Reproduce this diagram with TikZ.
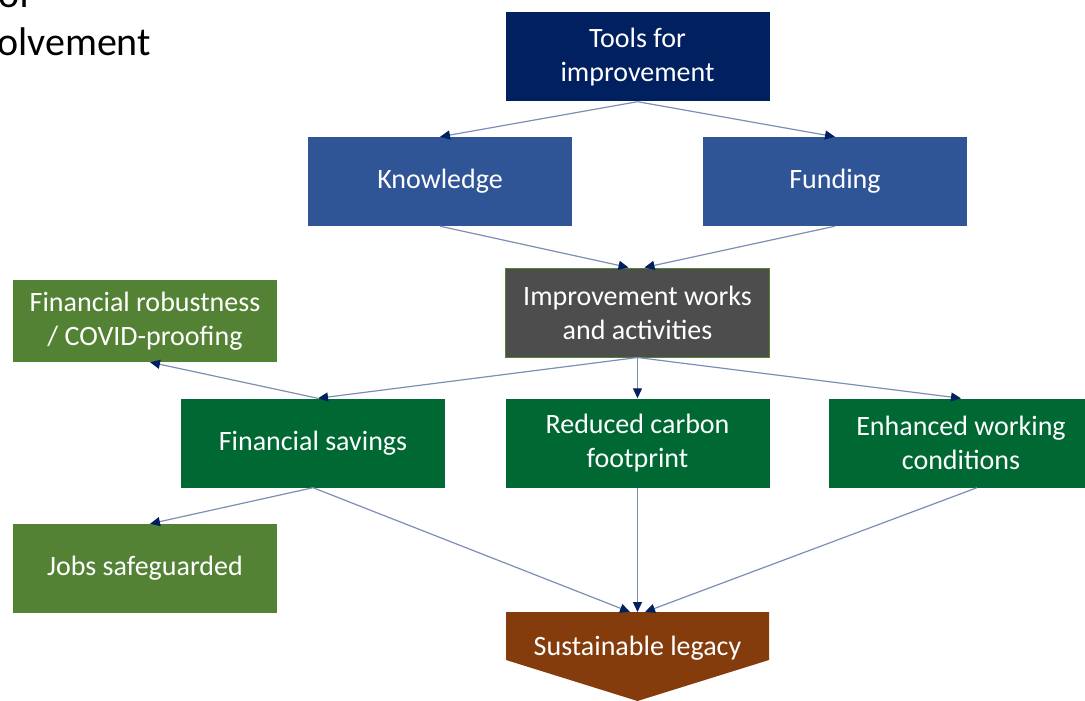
\documentclass[tikz,border=0pt]{standalone}
\usepackage{fontspec}
\setmainfont{Carlito}
\usetikzlibrary{arrows.meta}
\definecolor{navy}{RGB}{0,32,96}
\definecolor{midblue}{RGB}{47,85,151}
\definecolor{darkgrey}{RGB}{77,77,77}
\definecolor{leafgreen}{RGB}{84,130,53}
\definecolor{deepgreen}{RGB}{0,104,51}
\definecolor{rust}{RGB}{132,60,12}
\definecolor{linkline}{RGB}{125,142,180}
\tikzset{
  box/.style={rectangle, minimum width=264pt, minimum height=89pt, inner sep=0pt,
    text=white, align=center, font=\fontsize{28}{34}\selectfont},
  toolbox/.style={box, fill=navy},
  knowbox/.style={box, fill=midblue},
  workbox/.style={box, fill=darkgrey, draw=leafgreen, line width=1pt},
  outbox/.style={box, fill=leafgreen},
  effectbox/.style={box, fill=deepgreen},
  link/.style={draw=linkline, line width=1.2pt,
    -{Triangle[length=10pt,width=9pt,fill=navy,color=navy]}},
}
\begin{document}
\begin{tikzpicture}[x=1pt,y=-1pt]
\useasboundingbox (0,0) rectangle (1085,701);
\clip (0,0) rectangle (1085,701);

% partial heading at top left
\node[anchor=base west, inner sep=0pt, font=\fontsize{40}{48}\selectfont] (hdA) at (-2,8) {of};
\node[anchor=base west, inner sep=0pt, font=\fontsize{40}{48}\selectfont] (hdB) at (-3,56) {olvement};

% boxes
\node[toolbox]   (tools)  at (637.5,57)  {Tools for\\improvement};
\node[knowbox]   (know)   at (440,181.5) {Knowledge};
\node[knowbox]   (fund)   at (835,181.5) {Funding};
\node[workbox]   (works)  at (637.5,312.5) {Improvement works\\and activities};
\node[outbox, minimum height=82pt] (robust) at (145,321) {Financial robustness\\/ COVID-proofing};
\node[effectbox] (save)   at (313,443)   {Financial savings};
\node[effectbox] (carbon) at (637.5,443) {Reduced carbon\\footprint};
\node[effectbox] (work)   at (961,443)   {Enhanced working\\conditions};
\node[outbox]    (jobs)   at (145,568.5) {Jobs safeguarded};

% pentagon arrow at the bottom
\fill[rust] (506,612) -- (769,612) -- (769,660) -- (637.5,701) -- (506,660) -- cycle;
\node[inner sep=0pt, text=white, font=\fontsize{28}{34}\selectfont] (legacy) at (637.5,648) {Sustainable legacy};
\coordinate (legL) at (630,612);
\coordinate (legC) at (637.5,612);
\coordinate (legR) at (645,612);

% connectors
\draw[link] (tools.south) -- (know.north);
\draw[link] (tools.south) -- (fund.north);
\draw[link] (know.south) -- ([xshift=-9pt]works.north);
\draw[link] (fund.south) -- ([xshift=7pt]works.north);
\draw[link] (works.south) -- ([xshift=5pt]save.north);
\draw[link] (works.south) -- (carbon.north);
\draw[link] (works.south) -- (work.north);
\draw[link] ([xshift=5pt]save.north) -- ([xshift=5pt]robust.south);
\draw[link] (save.south) -- ([xshift=5pt]jobs.north);
\draw[link] (save.south) -- (legL);
\draw[link] (carbon.south) -- (legC);
\draw[link] ([xshift=16pt]work.south) -- (legR);
\end{tikzpicture}
\end{document}
